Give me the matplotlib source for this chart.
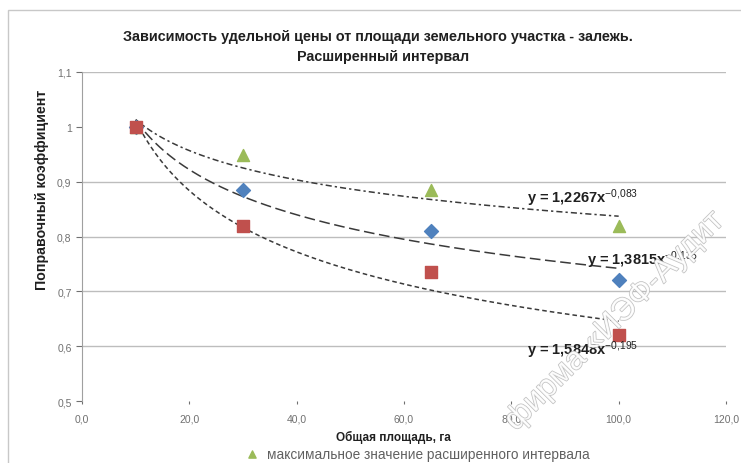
import matplotlib.pyplot as plt
import matplotlib.patches as mpatches
import matplotlib.patheffects as pe
import numpy as np

# площадь участка, га
area = [10, 30, 65, 100]
# поправочные коэффициенты
mean_vals = [1.0, 0.885, 0.81, 0.72]
max_vals = [1.0, 0.948, 0.885, 0.82]
min_vals = [1.0, 0.82, 0.735, 0.62]

# степенные линии тренда y = a * x^b
trend_a = [1.2267, 1.3815, 1.5848]
trend_b = [-0.083, -0.135, -0.195]
trend_labels = ["y = 1,2267x$^{-0{,}083}$", "y = 1,3815x$^{-0{,}135}$", "y = 1,5848x$^{-0{,}195}$"]

x_ticks = [0, 20, 40, 60, 80, 100, 120]
x_ticklabels = ["0,0", "20,0", "40,0", "60,0", "80,0", "100,0", "120,0"]
y_ticks = [0.5, 0.6, 0.7, 0.8, 0.9, 1.0, 1.1]
y_ticklabels = ["0,5", "0,6", "0,7", "0,8", "0,9", "1", "1,1"]
grid_y = [0.6, 0.7, 0.8, 0.9, 1.1]

plt.rcParams['font.family'] = ['Liberation Sans', 'DejaVu Sans']
plt.rcParams['mathtext.fontset'] = 'custom'
plt.rcParams['mathtext.rm'] = 'Liberation Sans'
plt.rcParams['mathtext.default'] = 'rm'

fig = plt.figure(figsize=(7.41, 4.64), dpi=100)
ax = fig.add_axes([82 / 741, 1 - 402 / 464, 644 / 741, 329 / 464])

# рамка диаграммы
fig.patches.append(mpatches.Rectangle((8 / 741, -0.1), 1.2, 1.1 - 11 / 464, transform=fig.transFigure,
                                      fill=False, edgecolor='#c8c8c8', linewidth=1))

for g in grid_y:
    ax.axhline(g, color='#bdbdbd', linewidth=1, zorder=0)

xs = np.linspace(10, 100, 200)
styles = [(0, (4, 2, 1.5, 2)), (0, (7, 3)), (0, (3, 2))]
for a, b, ls in zip(trend_a, trend_b, styles):
    ax.plot(xs, a * xs ** b, color='#3a3a3a', linewidth=1.1, linestyle=ls, zorder=2)

ax.scatter(area, mean_vals, marker='D', s=50, color='#4f81bd', zorder=3)
ax.scatter(area, max_vals, marker='^', s=75, color='#9bbb59', zorder=3,
           label='максимальное значение расширенного интервала')
ax.scatter(area, min_vals, marker='s', s=75, color='#c0504d', zorder=4)

label_pos = [(82.9, 0.872), (94.1, 0.759), (82.9, 0.595)]
for (lx, ly), txt in zip(label_pos, trend_labels):
    ax.text(lx, ly, txt, fontsize=10.5, fontweight='bold', color='#202020', va='center', zorder=5)

ax.set_xlim(0, 120)
ax.set_ylim(0.5, 1.1)
ax.set_xticks(x_ticks)
ax.set_xticklabels(x_ticklabels)
ax.set_yticks(y_ticks)
ax.set_yticklabels(y_ticklabels)
ax.tick_params(axis='both', labelsize=7.5, colors='#707070', length=4)
ax.tick_params(axis='x', length=2, pad=7)
for sp in ['top', 'right', 'bottom']:
    ax.spines[sp].set_visible(False)
ax.spines['left'].set_color('#a0a0a0')

fig.text(378 / 741, 1 - 37 / 464, "Зависимость удельной цены от площади земельного участка - залежь.",
         ha='center', va='center', fontsize=10.4, fontweight='bold', color='#202020')
fig.text(383 / 741, 1 - 57 / 464, "Расширенный интервал",
         ha='center', va='center', fontsize=10.4, fontweight='bold', color='#202020')
fig.text(42 / 741, 1 - 190 / 464, "Поправочный коэффициент", rotation=90,
         ha='center', va='center', fontsize=10.2, fontweight='bold', color='#202020')
fig.text(393 / 741, 1 - 437 / 464, "Общая площадь, га",
         ha='center', va='center', fontsize=8.5, fontweight='bold', color='#202020')

fig.legend(loc='center', bbox_to_anchor=(414 / 741, 1 - 455 / 464), frameon=False,
           fontsize=9.8, handletextpad=0.1, markerscale=0.6, labelcolor='#606060')

# водяной знак
fig.text(615 / 741, 1 - 322 / 464, "фирма «ИЭФ-Аудит", rotation=45, ha='center', va='center',
         fontsize=23, color='white', alpha=0.85,
         path_effects=[pe.withStroke(linewidth=1.0, foreground='#b4b4b4')], zorder=10)

fig.savefig('out.png', dpi=100)
